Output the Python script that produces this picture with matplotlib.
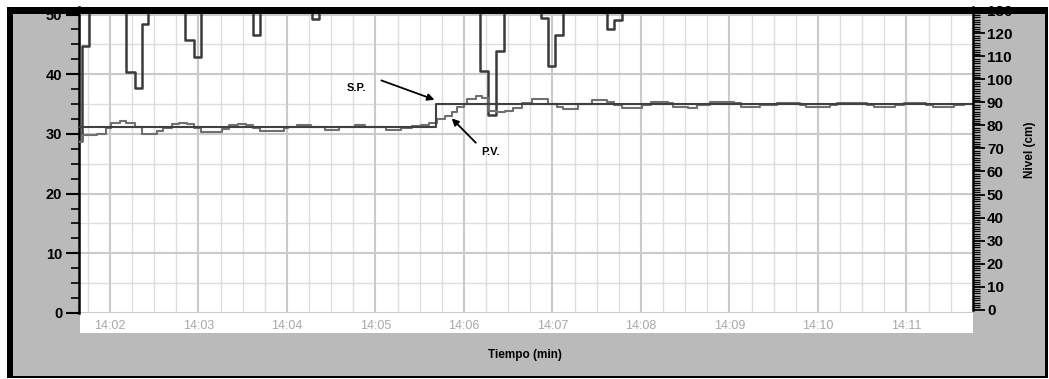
import numpy as np
import matplotlib
matplotlib.use("Agg")
import matplotlib.pyplot as plt
from matplotlib.patches import Rectangle

plt.rcParams['font.family'] = ['Liberation Sans', 'DejaVu Sans']

# tiempo en segundos desde las 14:00:00
pv_t = [100, 101, 111, 117, 121, 127, 131, 137, 142, 152, 156, 162, 167, 172, 177, 182, 196, 201, 207, 212,
        217, 222, 238, 241, 247, 256, 266, 275, 286, 293, 307, 317, 325, 331, 336, 342, 347, 352, 355, 360,
        362, 368, 372, 377, 382, 388, 393, 399, 406, 417, 423, 427, 437, 447, 457, 462, 467, 481, 487, 498,
        502, 512, 518, 527, 543, 548, 561, 572, 588, 592, 608, 613, 633, 638, 652, 658, 673, 678, 692, 699,
        706]
pv = [72.7, 75.8, 76.5, 78.8, 81.0, 82.1, 81.0, 79.3, 76.5, 77.8, 78.8, 80.7, 81.3, 80.7, 78.8, 77.3, 78.4, 80.0, 80.7, 80.0,
      78.8, 77.7, 78.8, 79.5, 80.0, 79.3, 78.1, 79.5, 80.0, 79.5, 78.2, 78.8, 79.8, 80.3, 81.1, 82.7, 84.1, 86.0, 88.2, 89.3,
      91.4, 92.8, 91.8, 86.3, 85.8, 86.5, 87.8, 89.6, 91.4, 89.3, 88.2, 87.0, 89.3, 91.1, 90.0, 88.9, 87.5, 88.9, 90.2, 89.6,
      88.2, 87.5, 88.9, 90.2, 89.6, 88.2, 88.9, 89.6, 88.9, 88.2, 88.9, 89.6, 88.9, 88.2, 88.9, 89.6, 88.9, 88.2, 88.9, 89.3,
      89.3]

sp_t = [100, 341, 706]
sp = [79.3, 89.3, 89.3]

# salida del controlador (eje izquierdo), fuera de escala por arriba
out_t = [100, 101, 106, 131, 137, 142, 146, 171, 177, 182, 217, 222, 257, 262, 371, 376, 382, 387,
         412, 417, 422, 427, 457, 462, 467, 706]
out = [28.8, 44.7, 60, 40.3, 37.7, 48.4, 60, 45.8, 42.9, 60, 46.5, 60, 49.3, 60, 40.6, 33.2, 43.9, 60,
       49.4, 41.3, 46.6, 60, 47.5, 49.1, 60, 60]

time_labels = ['14:02', '14:03', '14:04', '14:05', '14:06', '14:07', '14:08', '14:09', '14:10', '14:11']
left_ticks = [0, 10, 20, 30, 40, 50]
right_ticks = list(range(0, 131, 10))

W, H = 1049, 379


def fbox(x0, y0, x1, y1):
    return (x0 / W, 1 - y1 / H, (x1 - x0) / W, (y1 - y0) / H)


fig = plt.figure(figsize=(W / 100, H / 100), dpi=100, facecolor='white')

for box, col, z in [((7, 7, 1048, 378), 'black', -3),
                    ((13, 14, 1045, 376), '#bababa', -2),
                    ((80, 313, 973, 333), 'white', -1),
                    ((7, 7, 1048, 13.5), 'black', 10)]:
    x, y, w, h = fbox(*box)
    fig.add_artist(Rectangle((x, y), w, h, transform=fig.transFigure, facecolor=col,
                             edgecolor='none', zorder=z))

ax = fig.add_axes(fbox(79, 7, 973, 313))
ax.set_facecolor('white')
ax.set_xlim(99.0, 705.1)
ax.set_ylim(0, 306 / 5.97)

tick_sec = [int(s[3:]) * 60 for s in time_labels]
ax.set_xticks(tick_sec, labels=time_labels)
ax.set_xticks(np.arange(105, 706, 15), minor=True)
ax.tick_params(axis='x', which='both', length=0, labelcolor='#a8a8a8', labelsize=9, pad=5)

ax.set_yticks(left_ticks)
ax.set_yticks(np.arange(0, 51, 2.5), minor=True)
ax.tick_params(axis='y', which='major', length=9.5, width=1.5, labelsize=10.5, pad=2.5)
ax.tick_params(axis='y', which='minor', length=5.5, width=1.2)
plt.setp(ax.get_yticklabels(), fontweight='bold')

ax.set_axisbelow(True)
ax.grid(axis='x', which='minor', color='#dedede', lw=1.0)
ax.grid(axis='x', which='major', color='#cacaca', lw=1.5)
ax.grid(axis='y', which='major', color='#cacaca', lw=1.5)
for v in range(5, 51, 10):
    ax.axhline(v, color='#dedede', lw=1.0, zorder=0.5)

for s in ['top', 'bottom', 'right']:
    ax.spines[s].set_visible(False)
ax.spines['left'].set_linewidth(1.8)

ax.step(out_t, out, where='post', color='#3a3a3a', lw=1.8, zorder=3)

ax2 = ax.twinx()
ax2.set_ylim(-3.5 / 2.30, 302.5 / 2.30)
ax2.set_yticks(right_ticks)
ax2.set_yticks(np.arange(0, 132, 1), minor=True)
ax2.tick_params(axis='y', which='major', length=8.5, width=1.3, pad=1.5)
ax2.tick_params(axis='y', which='minor', length=5, width=0.9)
plt.setp(ax2.get_yticklabels(), fontweight='bold', fontsize=11,
         family=['Liberation Sans Narrow', 'Liberation Sans', 'DejaVu Sans'])
for s in ['top', 'bottom', 'left']:
    ax2.spines[s].set_visible(False)
ax2.spines['right'].set_linewidth(1.8)
ax2.spines['right'].set_bounds(0, 302.5 / 2.30)

ax2.step(pv_t, pv, where='post', color='#707070', lw=1.5)
ax2.step(sp_t, sp, where='post', color='#404040', lw=1.5)

arrow = dict(arrowstyle='-|>', color='black', lw=1.3, mutation_scale=10, shrinkA=0, shrinkB=0)
ax2.annotate('', xy=(340, 91.2), xytext=(304, 99.6), arrowprops=arrow)
ax2.text(287, 96.2, 'S.P.', fontsize=8, fontweight='bold', ha='center', va='center')
ax2.annotate('', xy=(351.7, 83.1), xytext=(368, 72.5), arrowprops=arrow)
ax2.text(378.3, 68.5, 'P.V.', fontsize=8, fontweight='bold', ha='center', va='center')

fig.text(525 / W, 1 - 355 / H, 'Tiempo (min)', fontsize=8.5, fontweight='bold', ha='center', va='center')
fig.text(1030 / W, 1 - 150 / H, 'Nivel (cm)', fontsize=8.5, fontweight='bold', ha='center', va='center',
         rotation=90)

fig.savefig('out.png', dpi=100, facecolor=fig.get_facecolor())
